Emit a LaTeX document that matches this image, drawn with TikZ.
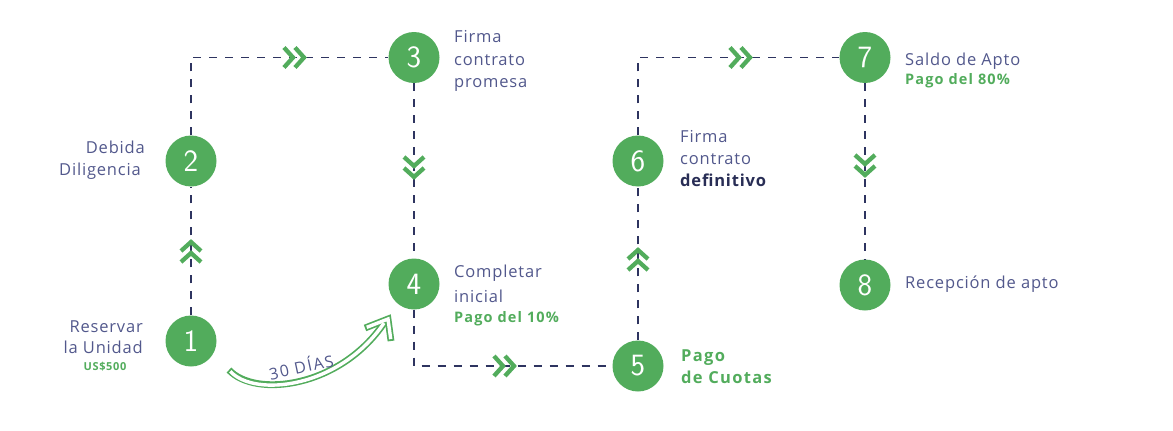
\documentclass[tikz,border=0pt]{standalone}
\usepackage{fontspec}
\setmainfont{Open Sans}
\definecolor{grn}{RGB}{82,172,92}
\definecolor{navy}{RGB}{46,52,96}
\definecolor{slate}{RGB}{82,88,140}
\definecolor{deep}{RGB}{40,45,85}
\begin{document}
\begin{tikzpicture}[x=1pt,y=-1pt,
  stepcirc/.style={circle,fill=grn,minimum size=51pt,inner sep=0pt,text=white,font=\sffamily\fontsize{31}{31}\selectfont},
  link/.style={draw=navy,line width=1.9pt,dash pattern=on 8pt off 8pt},
  chevline/.style={draw=grn,line width=4.3pt,miter limit=10},
  lbl/.style={inner sep=0pt,text=slate,font=\fontsize{16.5}{16.5}\selectfont\addfontfeatures{LetterSpace=5}},
  glbl/.style={inner sep=0pt,text=grn,font=\bfseries\fontsize{14.5}{14.5}\selectfont\addfontfeatures{LetterSpace=8}},
  bigg/.style={inner sep=0pt,text=grn,font=\bfseries\fontsize{16.5}{16.5}\selectfont\addfontfeatures{LetterSpace=8}},
  chev/.pic={\draw[chevline] (-10,-10)--(-1,0)--(-10,10); \draw[chevline] (1,-10)--(10,0)--(1,10);},
  arrowout/.style={draw=grn,line width=6.8pt,line join=miter},
  arrowin/.style={draw=white,line width=3.4pt,line join=miter}
]
\useasboundingbox (0,0) rectangle (1173,431);
% step circles
\node[stepcirc] (n1) at (191,341) {1};
\node[stepcirc] (n2) at (191,161) {2};
\node[stepcirc] (n3) at (414,57.5) {3};
\node[stepcirc] (n4) at (414,284) {4};
\node[stepcirc] (n5) at (638,366) {5};
\node[stepcirc] (n6) at (638,161) {6};
\node[stepcirc] (n7) at (865,57.5) {7};
\node[stepcirc] (n8) at (865,285) {8};
% dashed links
\draw[link] (n1) -- (n2);
\draw[link] (n2) |- (n3);
\draw[link] (n3) -- (n4);
\draw[link] (n4) |- (n5);
\draw[link] (n5) -- (n6);
\draw[link] (n6) |- (n7);
\draw[link] (n7) -- (n8);
% chevrons
\pic[rotate=90] at (191,252) {chev};
\pic at (294,57.5) {chev};
\pic[rotate=-90] at (414,167) {chev};
\pic at (504,366) {chev};
\pic[rotate=90] at (638,260) {chev};
\pic at (740,57.5) {chev};
\pic[rotate=-90] at (865,165) {chev};
% curved hollow arrow
\coordinate (a0) at (229,370);
\coordinate (a1) at (384,323);
\coordinate (hl) at (365,328);
\coordinate (ht) at (388,319);
\coordinate (hr) at (391,341);
\draw[arrowout] (a0) .. controls (255,398) and (340,388) .. (a1);
\draw[arrowout] (hl) -- (ht) -- (hr);
\draw[arrowin,shorten <=1.9pt] (a0) .. controls (255,398) and (340,388) .. (a1);
\draw[arrowin,shorten <=1.9pt,shorten >=1.9pt] (hl) -- (ht) -- (hr);
\node[lbl,rotate=12,font=\fontsize{16}{16}\selectfont\addfontfeatures{LetterSpace=10}] (dias) at (301,366) {30 DÍAS};
% labels
\node[lbl,anchor=base east] (t2a) at (145,153) {Debida};
\node[lbl,anchor=base east] (t2b) at (141,175) {Diligencia};
\node[lbl,anchor=base east] (t1a) at (143,332) {Reservar};
\node[lbl,anchor=base east] (t1b) at (143,353) {la Unidad};
\node[glbl,anchor=base,font=\bfseries\fontsize{11}{11}\selectfont\addfontfeatures{LetterSpace=6}] (t1c) at (105,370) {US\$500};
\node[lbl,anchor=base west] (t3a) at (454,42) {Firma};
\node[lbl,anchor=base west] (t3b) at (454,65) {contrato};
\node[lbl,anchor=base west] (t3c) at (454,87) {promesa};
\node[lbl,anchor=base west] (t4a) at (454,277) {Completar};
\node[lbl,anchor=base west] (t4b) at (454,302) {inicial};
\node[glbl,anchor=base west] (t4c) at (454,322) {Pago del 10\%};
\node[bigg,anchor=base west] (t5a) at (681,361) {Pago};
\node[bigg,anchor=base west] (t5b) at (681,383) {de Cuotas};
\node[lbl,anchor=base west] (t6a) at (680,142) {Firma};
\node[lbl,anchor=base west] (t6b) at (680,164) {contrato};
\node[lbl,anchor=base west,text=deep,font=\bfseries\fontsize{16.5}{16.5}\selectfont\addfontfeatures{LetterSpace=5}] (t6c) at (680,186) {definitivo};
\node[lbl,anchor=base west] (t7a) at (905,65) {Saldo de Apto};
\node[glbl,anchor=base west] (t7b) at (905,84) {Pago del 80\%};
\node[lbl,anchor=base west] (t8a) at (905,288) {Recepción de apto};
\end{tikzpicture}
\end{document}
